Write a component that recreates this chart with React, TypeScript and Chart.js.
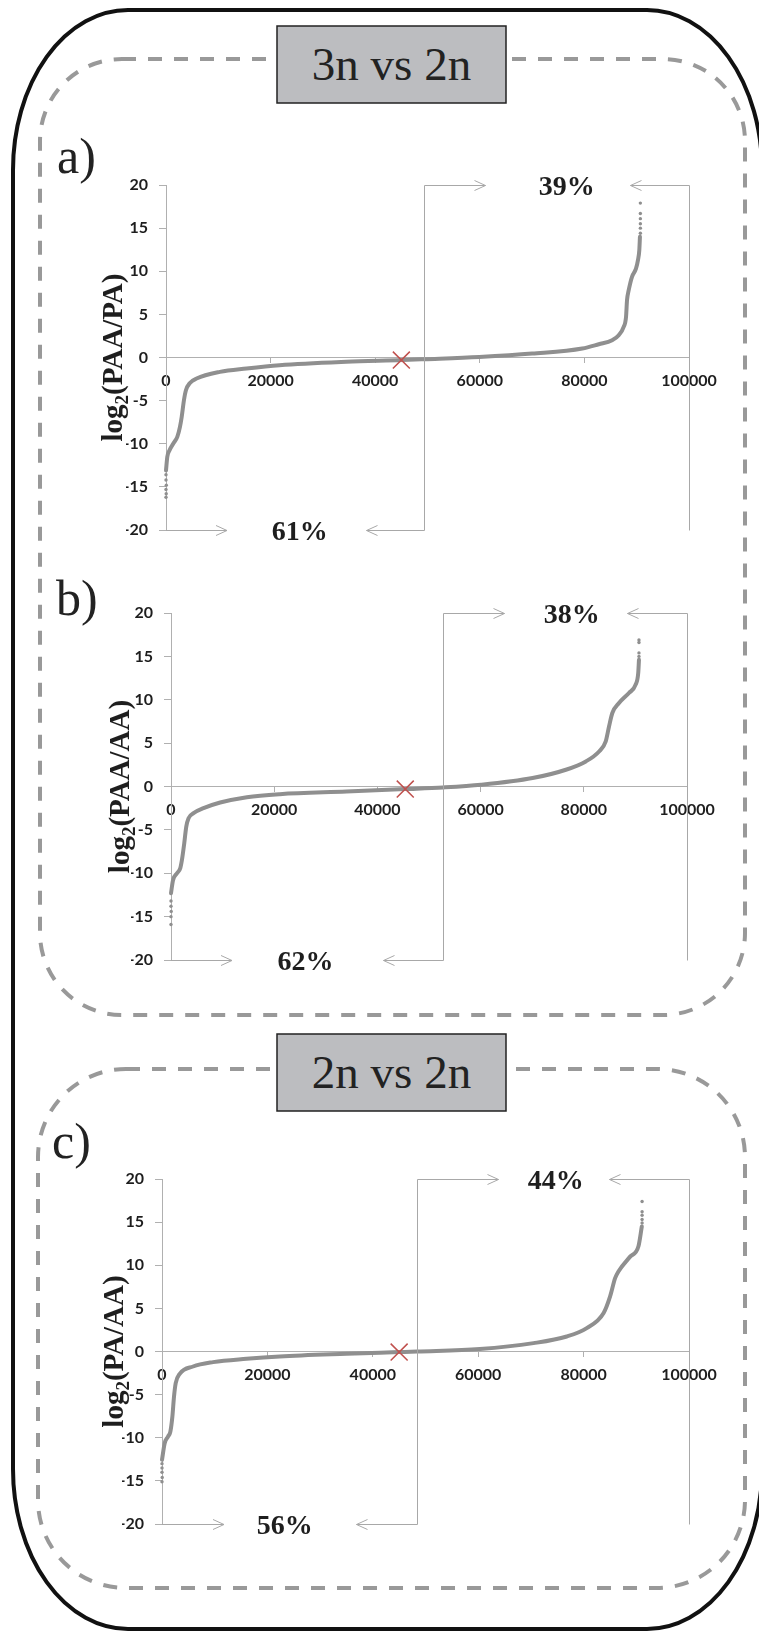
import React, { useEffect, useRef } from "react";
import { Chart, registerables } from "chart.js";

Chart.register(...registerables);

// ---------- data ----------
const xTickValues = [0, 20000, 40000, 60000, 80000, 100000];
const yTickValues = [-20, -15, -10, -5, 0, 5, 10, 15, 20];

// panel a: log2(PAA/PA)
const aX = [0, 250, 630, 1400, 2160, 2670, 3000, 3430, 3810, 4580, 5850, 10300, 15400, 21700, 34500, 45200, 49400, 59900, 70000, 79600, 82750, 85300, 86560, 87510, 87960, 88150, 88470, 89100, 89860, 90240, 90500, 90620];
const aY = [-13.1, -11.5, -10.8, -9.98, -9.2, -8.05, -6.9, -4.96, -3.8, -2.95, -2.44, -1.67, -1.28, -0.9, -0.5, -0.3, -0.2, 0.07, 0.46, 1.04, 1.54, 2.0, 2.59, 3.55, 4.71, 6.65, 7.8, 9.36, 10.3, 11.3, 12.45, 14.0];
const aDotsX = [90700, 90700, 90700, 90700, 90700, 90700, 0, 0, 60, 0, 40, 0];
const aDotsY = [14.4, 15.0, 15.5, 16.1, 16.7, 17.9, -13.6, -14.2, -14.8, -15.3, -15.8, -16.2];

// panel b: log2(PAA/AA)
const bX = [0, 390, 1160, 1800, 2120, 2570, 2960, 3400, 4370, 6300, 9530, 14700, 21100, 34000, 45400, 52700, 60100, 70070, 76520, 80390, 82960, 84250, 84890, 85530, 86820, 88750, 90040, 90550, 90690];
const bY = [-12.3, -10.8, -10.0, -9.4, -8.46, -6.53, -4.62, -3.65, -3.07, -2.5, -1.85, -1.23, -0.88, -0.58, -0.3, -0.11, 0.2, 0.97, 1.93, 2.89, 4.04, 5.2, 6.92, 8.47, 9.62, 10.78, 11.74, 13.1, 14.6];
const bDotsX = [90690, 90690, 90690, 90690, 0, 0, 40, 0, 0];
const bDotsY = [15.0, 15.4, 16.6, 16.9, -13.2, -13.8, -14.4, -15.0, -15.9];

// panel c: log2(PA/AA)
const cX = [0, 510, 1140, 1590, 1970, 2280, 2600, 3360, 5890, 9690, 16030, 22350, 35020, 45010, 48430, 60300, 70500, 76800, 80600, 83800, 85030, 85980, 86610, 88830, 90410, 91050];
const cY = [-12.56, -10.63, -9.86, -9.28, -7.54, -5.22, -3.67, -2.59, -1.74, -1.23, -0.85, -0.58, -0.27, -0.07, 0, 0.28, 0.97, 1.74, 2.71, 4.45, 6.38, 8.5, 9.28, 11.0, 12.2, 14.5];
const cDotsX = [91100, 91100, 91100, 91100, 91100, 0, 0, 0, 40, 0];
const cDotsY = [14.9, 15.3, 15.8, 16.2, 17.4, -13.0, -13.5, -14.0, -14.6, -15.1];

const medianX = [45000, 45400, 45000];
const medianY = [-0.3, -0.3, -0.07];
const splitX = [49400, 52700, 48430];
const topPercent = ["39%", "38%", "44%"];
const bottomPercent = ["61%", "62%", "56%"];
const topLabelX = [76640, 77680, 74720];
const bottomLabelX = [25550, 26090, 23300];
const ratioNames = ["(PAA/PA)", "(PAA/AA)", "(PA/AA)"];
const panelLetters = ["a)", "b)", "c)"];
const groupTitles = ["3n vs 2n", "2n vs 2n"];

// ---------- layout ----------
type Layout = {
  top: number; height: number;
  pad: { left: number; right: number; top: number; bottom: number };
  titleX: number;
  arrows: [number, number, number, number];
};
const layouts: Layout[] = [
  { top: 140, height: 420, pad: { left: 106, right: 51, top: 45, bottom: 30 }, titleX: 102, arrows: [61, 59, 61, 58] },
  { top: 565, height: 430, pad: { left: 111, right: 53, top: 48, bottom: 35 }, titleX: 109, arrows: [61, 60, 61, 60] },
  { top: 1130, height: 430, pad: { left: 102, right: 51, top: 49, bottom: 36 }, titleX: 103, arrows: [81, 80, 62, 61] },
];

const CURVE = "#8f8f8f";
const AXIS = "#b0b0b0";
const BRACKET = "#a8a8a8";
const TEXT = "#1e1e1e";

function Panel({ idx }: { idx: number }) {
  const ref = useRef<HTMLCanvasElement | null>(null);
  useEffect(() => {
    const xs = [aX, bX, cX][idx];
    const ys = [aY, bY, cY][idx];
    const dx = [aDotsX, bDotsX, cDotsX][idx];
    const dy = [aDotsY, bDotsY, cDotsY][idx];
    const L = layouts[idx];
    const tickFont = { family: "Lato", weight: "bold" as const, size: 16 };

    const annotate = {
      id: "annotate" + idx,
      afterDatasetsDraw(chart: any) {
        const ctx = chart.ctx as CanvasRenderingContext2D;
        const sx = chart.scales.x;
        const sy = chart.scales.y;
        const xSplit = Math.round(sx.getPixelForValue(splitX[idx])) + 0.5;
        const xEnd = Math.round(sx.getPixelForValue(100000)) + 0.5;
        const x0 = sx.getPixelForValue(0);
        const yT = Math.round(sy.getPixelForValue(20)) + 0.5;
        const yB = Math.round(sy.getPixelForValue(-20)) + 0.5;
        ctx.save();
        ctx.strokeStyle = BRACKET;
        ctx.lineWidth = 1;
        const seg = (x1: number, y1: number, x2: number, y2: number) => {
          ctx.beginPath(); ctx.moveTo(x1, y1); ctx.lineTo(x2, y2); ctx.stroke();
        };
        const arrow = (x1: number, y: number, x2: number) => {
          const d = x2 > x1 ? 1 : -1;
          seg(x1, y, x2, y);
          ctx.beginPath();
          ctx.moveTo(x2 - d * 11, y - 5);
          ctx.lineTo(x2, y);
          ctx.lineTo(x2 - d * 11, y + 5);
          ctx.stroke();
        };
        seg(xSplit, yT, xSplit, yB);
        seg(xEnd, yT, xEnd, yB);
        const [a1, a2, a3, a4] = L.arrows;
        arrow(xSplit, yT, xSplit + a1);
        arrow(xEnd, yT, xEnd - a2);
        arrow(x0, yB, x0 + a3);
        arrow(xSplit, yB, xSplit - a4);

        ctx.fillStyle = TEXT;
        ctx.font = "bold 28px 'Liberation Serif'";
        ctx.textAlign = "center";
        ctx.textBaseline = "alphabetic";
        ctx.fillText(topPercent[idx], sx.getPixelForValue(topLabelX[idx]), yT + 9);
        ctx.fillText(bottomPercent[idx], sx.getPixelForValue(bottomLabelX[idx]), yB + 9);

        // y axis title with subscript
        const main = "bold 29px 'Liberation Serif'";
        const sub = "bold 19px 'Liberation Serif'";
        ctx.font = main;
        const wLog = ctx.measureText("log").width;
        const wRest = ctx.measureText(ratioNames[idx]).width;
        ctx.font = sub;
        const wSub = ctx.measureText("2").width;
        const total = wLog + wSub + wRest;
        ctx.translate(L.titleX, sy.getPixelForValue(0));
        ctx.rotate(-Math.PI / 2);
        ctx.textAlign = "left";
        let px = -total / 2;
        ctx.font = main;
        ctx.fillText("log", px, 0);
        px += wLog;
        ctx.font = sub;
        ctx.fillText("2", px, 6);
        px += wSub;
        ctx.font = main;
        ctx.fillText(ratioNames[idx], px, 0);
        ctx.restore();
      },
    };

    const chart = new Chart(ref.current as HTMLCanvasElement, {
      type: "line",
      data: {
        datasets: [
          {
            type: "scatter",
            data: [{ x: medianX[idx], y: medianY[idx] }],
            pointStyle: "crossRot",
            pointRadius: 12,
            borderColor: "#c0504d",
            borderWidth: 1.5,
            backgroundColor: "transparent",
            clip: false,
            order: 0,
          } as any,
          {
            type: "line",
            data: xs.map((x, i) => ({ x, y: ys[i] })),
            borderColor: CURVE,
            borderWidth: 4,
            pointRadius: 0,
            cubicInterpolationMode: "monotone",
            borderCapStyle: "round",
            borderJoinStyle: "round",
            fill: false,
            clip: false,
            order: 2,
          } as any,
          {
            type: "scatter",
            data: dx.map((x, i) => ({ x, y: dy[i] })),
            pointRadius: 1.7,
            borderWidth: 0,
            backgroundColor: CURVE,
            clip: false,
            order: 3,
          } as any,
        ],
      },
      options: {
        animation: false,
        responsive: false,
        events: [],
        layout: { padding: L.pad },
        plugins: { legend: { display: false }, tooltip: { enabled: false }, title: { display: false } },
        scales: {
          x: {
            type: "linear",
            position: { y: 0 } as any,
            min: 0,
            max: 100000,
            afterBuildTicks: (s: any) => { s.ticks = xTickValues.map((v) => ({ value: v })); },
            ticks: {
              callback: (v: any) => String(v),
              font: tickFont,
              color: TEXT,
              padding: 9,
              maxRotation: 0,
              autoSkip: false,
            },
            grid: { drawOnChartArea: false, drawTicks: true, tickLength: 5, color: AXIS },
            border: { display: true, color: AXIS, width: 1 },
          },
          y: {
            type: "linear",
            position: "left",
            min: -20,
            max: 20,
            afterBuildTicks: (s: any) => { s.ticks = yTickValues.map((v) => ({ value: v })); },
            afterFit: (s: any) => { s.width = 40; },
            ticks: { font: tickFont, color: TEXT, padding: 11, callback: (v: any) => String(v) },
            grid: { drawOnChartArea: false, drawTicks: true, tickLength: 7, color: AXIS },
            border: { display: true, color: AXIS, width: 1 },
          },
        },
      } as any,
      plugins: [annotate],
    });
    return () => chart.destroy();
  }, [idx]);
  const L = layouts[idx];
  return (
    <canvas
      ref={ref}
      width={720}
      height={L.height}
      style={{ position: "absolute", left: 20, top: L.top, width: 720, height: L.height }}
    />
  );
}

export default function App() {
  const dash = { fill: "none", stroke: "#999999", strokeWidth: 4, strokeDasharray: "14 12" };
  const titleBox = { fill: "#bcbdc0", stroke: "#222", strokeWidth: 1.5 };
  const serif = "'Liberation Serif', 'Times New Roman', serif";
  return (
    <div style={{ position: "absolute", left: 0, top: 0, width: 759, height: 1633, overflow: "hidden", background: "#fff" }}>
      <svg width={759} height={1633} style={{ position: "absolute", left: 0, top: 0 }}>
        <rect x={13} y={10} width={749} height={1619} rx={115} ry={160} fill="none" stroke="#111" strokeWidth={4} />
        <rect x={40} y={59} width={705} height={956} rx={82} ry={82} {...dash} />
        <rect x={38} y={1069} width={707} height={519} rx={88} ry={88} {...dash} />
        <rect x={277} y={26} width={229} height={77} {...titleBox} />
        <rect x={277} y={1034} width={229} height={77} {...titleBox} />
        <text x={391.5} y={80} fontFamily={serif} fontSize={47} textAnchor="middle" fill="#222">{groupTitles[0]}</text>
        <text x={391.5} y={1088} fontFamily={serif} fontSize={47} textAnchor="middle" fill="#222">{groupTitles[1]}</text>
        <text x={57} y={173} fontFamily={serif} fontSize={50} fill="#222">{panelLetters[0]}</text>
        <text x={56} y={615} fontFamily={serif} fontSize={50} fill="#222">{panelLetters[1]}</text>
        <text x={52} y={1158} fontFamily={serif} fontSize={50} fill="#222">{panelLetters[2]}</text>
      </svg>
      <Panel idx={0} />
      <Panel idx={1} />
      <Panel idx={2} />
    </div>
  );
}
